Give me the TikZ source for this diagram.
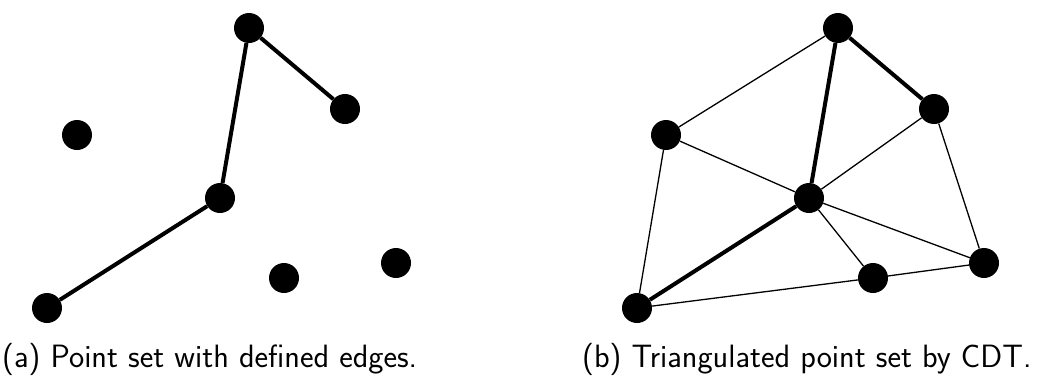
\documentclass[tikz,border=0pt]{standalone}
\usepackage{fontspec}
\newcommand{\capfont}{\fontsize{32.3pt}{38pt}\selectfont\sffamily}
\begin{document}
\begin{tikzpicture}[x=1pt,y=-1pt,
  pt/.style={circle,fill=black,minimum size=30pt,inner sep=0pt},
  thickedge/.style={line width=4pt},
  thinedge/.style={line width=1.3pt},
  captext/.style={anchor=base west,inner sep=0pt}]
\useasboundingbox (0,0) rectangle (1040,383);
% left panel
\node[pt] (a1) at (249,28) {};
\node[pt] (a2) at (345,109) {};
\node[pt] (a3) at (77,135) {};
\node[pt] (a4) at (220,198) {};
\node[pt] (a5) at (47,308) {};
\node[pt] (a6) at (284,278) {};
\node[pt] (a7) at (396,263) {};
\draw[thickedge] (a1) -- (a2);
\draw[thickedge] (a1) -- (a4);
\draw[thickedge] (a4) -- (a5);
% right panel
\node[pt] (b1) at (838,28) {};
\node[pt] (b2) at (934,109) {};
\node[pt] (b3) at (666,135) {};
\node[pt] (b4) at (809,198) {};
\node[pt] (b5) at (637,308) {};
\node[pt] (b6) at (873,278) {};
\node[pt] (b7) at (984,263) {};
\draw[thickedge] (b1) -- (b2);
\draw[thickedge] (b1) -- (b4);
\draw[thickedge] (b4) -- (b5);
\draw[thinedge] (b1) -- (b3);
\draw[thinedge] (b3) -- (b4);
\draw[thinedge] (b3) -- (b5);
\draw[thinedge] (b2) -- (b4);
\draw[thinedge] (b2) -- (b7);
\draw[thinedge] (b4) -- (b7);
\draw[thinedge] (b4) -- (b6);
\draw[thinedge] (b6) -- (b7);
\draw[thinedge] (b5) -- (b6);
% captions
\node[captext] (ca) at (2,367) {\capfont (a) Point set with defined edges.};
\node[captext] (cb) at (582,367) {\capfont (b) Triangulated point set by CDT.};
\end{tikzpicture}
\end{document}
